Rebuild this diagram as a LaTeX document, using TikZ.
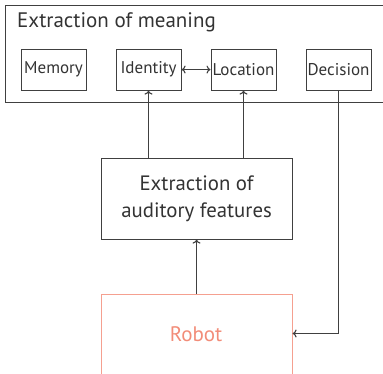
\documentclass[tikz,border=0pt]{standalone}
\usepackage{fontspec}
\setmainfont{PT Sans}
\usetikzlibrary{arrows.meta}
\definecolor{ink}{HTML}{333333}
\definecolor{edge}{HTML}{404040}
\definecolor{robottext}{HTML}{F28C78}
\definecolor{robotline}{HTML}{F5A090}
\begin{document}
\begin{tikzpicture}[x=1pt,y=-1pt,
  smallbox/.style={draw=edge, line width=1.1pt, minimum width=65pt, minimum height=41pt, inner sep=1pt, text=ink, font=\fontsize{17}{19}\selectfont, anchor=north west},
  conn/.style={draw=edge, line width=1.1pt, ->, >={To[length=4pt,width=8pt]}}
]
\useasboundingbox (0,0) rectangle (383,373);
\clip (0,0) rectangle (383,373);
\node[draw=edge, line width=1.1pt, anchor=north west, minimum width=390pt, minimum height=97pt, inner sep=0pt] (meaning) at (4.5,4.5) {};
\node[anchor=west, text=ink, font=\fontsize{21}{24}\selectfont, inner sep=0pt] (title) at (17,22) {Extraction of meaning};
\node[smallbox] (memory) at (20.5,48.5) {Memory};
\node[smallbox] (identity) at (115.5,48.5) {Identity};
\node[smallbox] (location) at (210.5,48.5) {Location};
\node[smallbox] (decision) at (305.5,48.5) {Decision};
\node[draw=edge, line width=1.1pt, anchor=north west, minimum width=191pt, minimum height=81pt, text=ink, align=center, font=\fontsize{20.8}{27}\selectfont] (features) at (100.5,157.5) {Extraction of\\auditory features};
\node[draw=robotline, line width=1.1pt, anchor=north west, minimum width=191pt, minimum height=110pt, inner sep=0pt] (robot) at (100.5,293.5) {};
\node[text=robottext, font=\fontsize{21}{23}\selectfont] (robotlabel) at (196,334) {Robot};
\coordinate (fl) at (148.5,157.5);
\coordinate (fr) at (243.5,157.5);
\draw[conn, <->] (identity.east) -- (location.west);
\draw[conn] (fl) -- (fl |- identity.south);
\draw[conn] (fr) -- (fr |- location.south);
\draw[conn] (robot.north) -- (features.south);
\coordinate (corner) at ([xshift=0pt]decision.south |- 0,333.5);
\draw[conn] (decision.south) -- (corner) -- (robot.east |- corner);
\end{tikzpicture}
\end{document}
